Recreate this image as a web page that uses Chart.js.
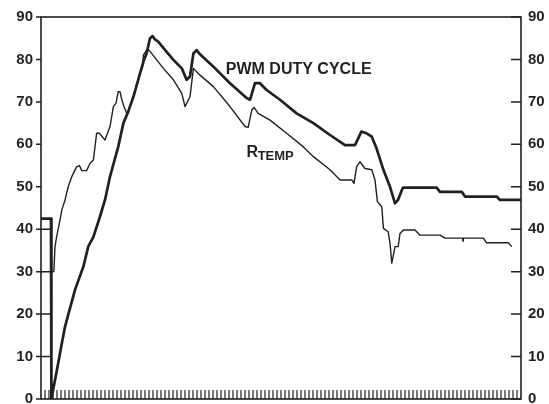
<!DOCTYPE html>
<html>
<head>
<meta charset="utf-8">
<style>
  html, body { margin: 0; padding: 0; background: #ffffff; }
  #wrap { width: 549px; height: 404px; position: relative; }
</style>
<script src="https://cdn.jsdelivr.net/npm/chart.js@4.4.1/dist/chart.umd.min.js"></script>
</head>
<body>
<div id="wrap"><canvas id="c" width="549" height="404"></canvas></div>
<script>
// Time axis (sample index) and value axis ranges
const xMin = 0;
const xMax = 120;
const yTickValues = [0, 10, 20, 30, 40, 50, 60, 70, 80, 90];

// PWM duty cycle trace (%)
const pwmX = [0, 2.5, 2.6, 4.3, 5.2, 6.0, 6.8, 8.5, 10.6, 11.8, 13.1, 14.75, 16, 17.25, 19.3, 20.6, 21.8,
  23.1, 24.75, 25.75, 26.4, 27.25, 27.9, 28.5, 29.3, 31.4, 33.1, 35.2, 36.4, 37.25, 38.1, 38.9, 39.75,
  43.1, 47.25, 51.4, 52.25, 53.5, 54.75, 56.4, 59.75, 63.9, 68.1, 72.25, 76, 78.5, 80.1, 81.4, 82.7,
  83.9, 85.6, 87.25, 88.5, 89.25, 90.2, 90.5, 98.9, 99.75, 105.2, 106, 113.9, 114.75, 120];
const pwmY = [42.5, 42.5, 0, 8.4, 13.1, 17, 19.8, 25.7, 31.2, 35.9, 38.2, 43, 46.9, 52.4, 59.4, 65, 67.7,
  71.2, 76.7, 79.9, 81.4, 85, 85.5, 84.7, 84.2, 81.8, 79.9, 77.9, 75.2, 76, 81.4, 82.2, 81.2,
  78.3, 74.4, 70.9, 70.5, 74.4, 74.4, 72.8, 70.5, 67.3, 65, 62.2, 59.8, 59.8, 63, 62.6, 61.8,
  59, 54, 50, 46.1, 46.9, 49.2, 49.8, 49.8, 48.8, 48.8, 47.7, 47.7, 46.9, 46.9];

// R_TEMP trace
const rtempX = [0, 2.5, 2.6, 3.2, 3.5, 3.9, 4.75, 5.2, 6.0, 6.8, 7.7, 8.9, 9.6, 10.2, 11.4, 12.25, 13.1,
  13.9, 14.6, 16, 17.25, 18.1, 18.75, 19.3, 19.75, 20.2, 20.75, 21.4, 21.8, 23.1, 24.75, 25.4, 25.6,
  26.4, 27, 30.6, 33.1, 35.2, 36.0, 37.25, 38.1, 38.9, 39.75, 43.1, 47.25, 51, 51.8, 52.7, 53.25,
  54.3, 57.25, 61.4, 65.6, 68.1, 72.25, 74.75, 77.7, 78.25, 78.9, 79.75, 81, 82.7, 83.5, 84.1, 85.2,
  85.6, 86.8, 87.25, 87.7, 88.1, 88.5, 89.3, 89.75, 90.6, 93.5, 94.75, 99.75, 101, 105.4, 105.5,
  105.6, 110.6, 111.4, 116.8, 117.7];
const rtempY = [42.5, 42.5, 30, 30, 35.9, 38.2, 42.2, 44.5, 46.9, 50, 52.4, 54.7, 55, 53.8, 53.8, 55.5, 56.3,
  62.6, 62.6, 61, 64.2, 68.9, 69.7, 72.4, 72.4, 70.5, 68.9, 67.3, 67.7, 71.2, 76.7, 78.3, 81,
  82.2, 82.2, 77.9, 75.2, 72, 68.9, 71.2, 77.9, 77.1, 76.3, 73.6, 68.9, 64.2, 64, 68.1, 68.7,
  67.3, 65.7, 62.6, 59.4, 57.1, 54, 51.6, 51.6, 50.8, 54.7, 55.9, 54.3, 54, 51.6, 46.5, 45.3,
  40.2, 39.4, 36.7, 32, 33.9, 35.9, 35.9, 39, 39.8, 39.8, 38.6, 38.6, 37.9, 37.9, 37.2,
  37.9, 37.9, 36.8, 36.8, 35.9];

const INK = '#231f20';
const FONT = '"Liberation Sans", Arial, Helvetica, sans-serif';

function toPoints(xs, ys) {
  return xs.map((x, i) => ({ x: x, y: ys[i] }));
}

// Frame, tick marks and in-plot labels
const framePlugin = {
  id: 'frame',
  afterDatasetsDraw(chart) {
    const { ctx, chartArea: a, scales } = chart;
    const xs = scales.x, ys = scales.y;
    ctx.save();
    ctx.strokeStyle = INK;
    ctx.lineCap = 'butt';

    // x tick marks pointing up from the bottom edge
    ctx.lineWidth = 1.2;
    ctx.beginPath();
    for (let v = xMin + 1; v < xMax; v++) {
      const px = xs.getPixelForValue(v);
      ctx.moveTo(px, a.bottom);
      ctx.lineTo(px, a.bottom - 9);
    }
    ctx.stroke();

    // y tick marks: outward on the left, inward on the right
    ctx.lineWidth = 1.5;
    ctx.beginPath();
    const dropPx = xs.getPixelForValue(pwmX[1]);
    yTickValues.forEach(v => {
      const py = ys.getPixelForValue(v);
      ctx.moveTo(a.left - 5, py);
      ctx.lineTo(a.left, py);
      if (v > 0 && v < pwmY[0]) {
        ctx.moveTo(a.left, py);
        ctx.lineTo(dropPx, py);
      }
      ctx.moveTo(a.right - 10, py);
      ctx.lineTo(a.right, py);
    });
    ctx.stroke();

    // plot frame
    ctx.lineWidth = 1.6;
    ctx.strokeRect(a.left, a.top, a.right - a.left, a.bottom - a.top);

    // series labels
    ctx.fillStyle = INK;
    ctx.textBaseline = 'alphabetic';
    ctx.textAlign = 'left';
    ctx.font = 'bold 16px ' + FONT;
    ctx.fillText('PWM DUTY CYCLE', xs.getPixelForValue(46.2), ys.getPixelForValue(76.6));
    const rx = xs.getPixelForValue(51.4);
    const ry = ys.getPixelForValue(57.1);
    ctx.fillText('R', rx, ry);
    const rw = ctx.measureText('R').width;
    ctx.font = 'bold 13px ' + FONT;
    ctx.fillText('TEMP', rx + rw - 0.5, ry + 3.5);
    ctx.restore();
  }
};

const tickFont = { family: FONT, size: 15, weight: 'bold' };

// value axes keep a fixed width and do not reserve room for end labels
function fixAxis(width) {
  return function (s) {
    s.width = width;
    s.paddingTop = 0;
    s.paddingBottom = 0;
  };
}

new Chart(document.getElementById('c'), {
  type: 'line',
  data: {
    datasets: [
      {
        label: 'PWM DUTY CYCLE',
        data: toPoints(pwmX, pwmY),
        borderColor: INK,
        borderWidth: 2.7,
        pointRadius: 0,
        tension: 0,
        fill: false,
        borderJoinStyle: 'round'
      },
      {
        label: 'RTEMP',
        data: toPoints(rtempX, rtempY),
        borderColor: INK,
        borderWidth: 1.4,
        pointRadius: 0,
        tension: 0,
        fill: false,
        borderJoinStyle: 'round'
      }
    ]
  },
  options: {
    responsive: false,
    animation: false,
    devicePixelRatio: 1,
    layout: { padding: { top: 17, bottom: 5, left: 0, right: 0 } },
    plugins: { legend: { display: false }, tooltip: { enabled: false } },
    scales: {
      x: {
        type: 'linear',
        min: xMin,
        max: xMax,
        display: false
      },
      y: {
        type: 'linear',
        position: 'left',
        min: 0,
        max: 90,
        afterBuildTicks(s) { s.ticks = yTickValues.map(v => ({ value: v })); },
        afterFit: fixAxis(41),
        border: { display: false },
        grid: { drawOnChartArea: false, drawTicks: false, tickLength: 0 },
        ticks: { font: tickFont, color: INK, padding: 8 }
      },
      y2: {
        type: 'linear',
        position: 'right',
        min: 0,
        max: 90,
        afterBuildTicks(s) { s.ticks = yTickValues.map(v => ({ value: v })); },
        afterFit: fixAxis(28),
        border: { display: false },
        grid: { drawOnChartArea: false, drawTicks: false, tickLength: 0 },
        ticks: { font: tickFont, color: INK, padding: 7 }
      }
    }
  },
  plugins: [framePlugin]
});
</script>
</body>
</html>
